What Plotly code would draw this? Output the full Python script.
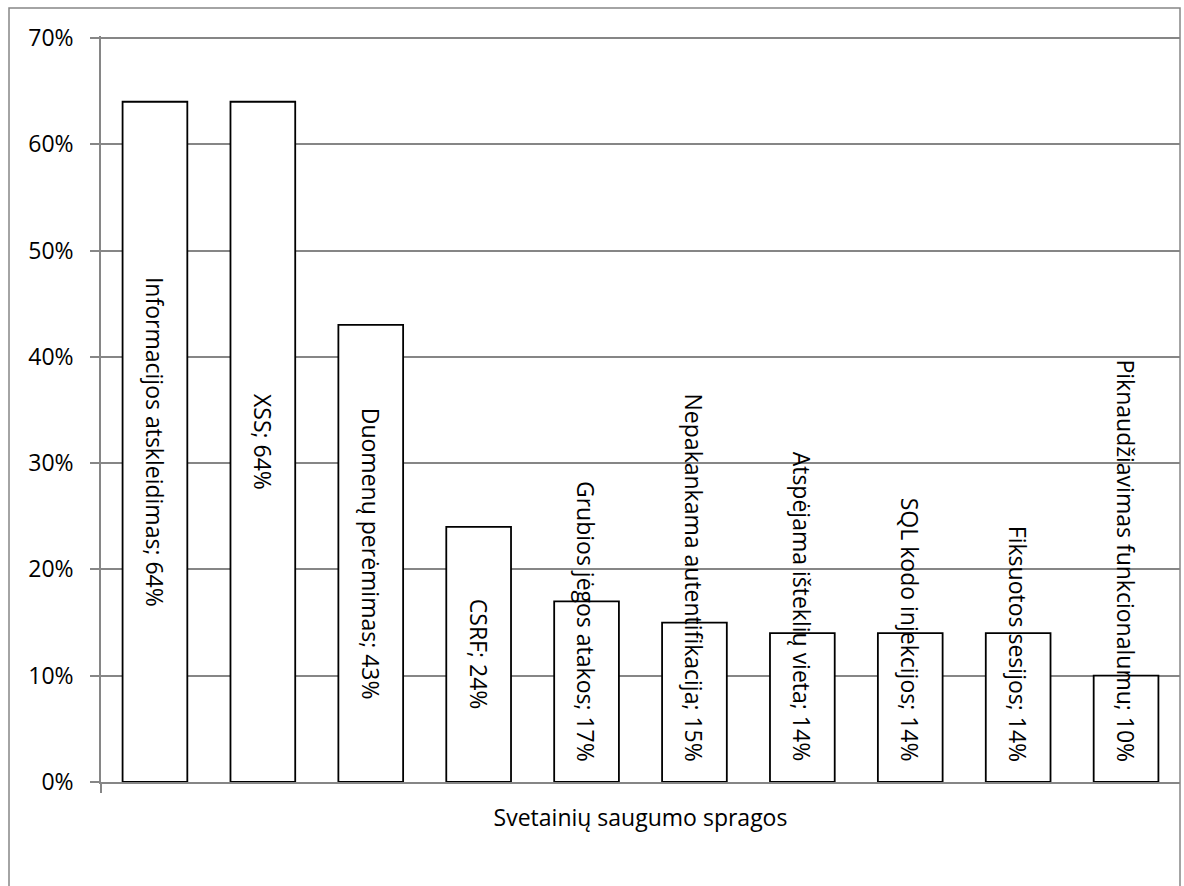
import plotly.graph_objects as go

categories = [
    "Informacijos atskleidimas",
    "XSS",
    "Duomenų perėmimas",
    "CSRF",
    "Grubios jėgos atakos",
    "Nepakankama autentifikacija",
    "Atspėjama išteklių vieta",
    "SQL kodo injekcijos",
    "Fiksuotos sesijos",
    "Piknaudžiavimas funkcionalumu",
]
values = [64, 64, 43, 24, 17, 15, 14, 14, 14, 10]
y_ticks = [0, 10, 20, 30, 40, 50, 60, 70]
y_tick_labels = ["0%", "10%", "20%", "30%", "40%", "50%", "60%", "70%"]
x_axis_label = "Svetainių saugumo spragos"

W, H = 1184, 886
L, R, T, B = 101, 4, 36, 104
TOP_PAD = 2  # px between top of plot area and highest gridline
FONT = "Open Sans"
FS = 23
plot_h = H - T - B
px_per_unit = (plot_h - TOP_PAD) / (y_ticks[-1] - y_ticks[0])
y_max = y_ticks[-1] + TOP_PAD / px_per_unit
bottom_pad = 18
char_w = 0.5 * FS

xs = list(range(len(categories)))
labels = [f"{c}; {v}%" for c, v in zip(categories, values)]

fig = go.Figure()
fig.add_trace(go.Bar(
    x=xs, y=values,
    marker=dict(color="white", line=dict(color="black", width=1.8)),
    hoverinfo="skip",
))

annotations = []
for x, v, lab in zip(xs, values, labels):
    est_len = len(lab) * char_w
    center_px = v * px_per_unit / 2
    if center_px - est_len / 2 < bottom_pad:
        annotations.append(dict(x=x, y=0, xref="x", yref="y", text=lab, showarrow=False,
                                textangle=90, yanchor="bottom", xanchor="center", yshift=bottom_pad,
                                font=dict(family=FONT, size=FS, color="black")))
    else:
        annotations.append(dict(x=x, y=v / 2, xref="x", yref="y", text=lab, showarrow=False,
                                textangle=90, yanchor="middle", xanchor="center",
                                font=dict(family=FONT, size=FS, color="black")))

fig.update_layout(
    width=W, height=H,
    margin=dict(l=L, r=R, t=T, b=B),
    paper_bgcolor="white", plot_bgcolor="white",
    bargap=0.4,
    showlegend=False,
    font=dict(family=FONT, size=FS, color="black"),
    annotations=annotations,
    xaxis=dict(
        range=[-0.5, len(categories) - 0.5],
        tickvals=[(len(categories) - 1) / 2],
        ticktext=[x_axis_label],
        ticks="",
        showgrid=False,
        showline=True, linecolor="#868686", linewidth=1.5,
        tickfont=dict(family=FONT, size=FS, color="black"),
        minor=dict(tickvals=[-0.5], ticks="outside", ticklen=9, tickcolor="#868686", tickwidth=1.5),
        ticklabelstandoff=15,
        fixedrange=True,
    ),
    yaxis=dict(
        range=[y_ticks[0], y_max],
        tickvals=y_ticks, ticktext=y_tick_labels,
        ticks="outside", ticklen=9, tickcolor="#868686", tickwidth=1.5,
        showgrid=True, gridcolor="#868686", gridwidth=1.5,
        showline=True, linecolor="#868686", linewidth=1.5,
        zeroline=False,
        tickfont=dict(family=FONT, size=FS, color="black"),
        ticklabelstandoff=12,
        fixedrange=True,
    ),
)

pw = W - L - R
fig.add_shape(type="rect", xref="paper", yref="paper",
              x0=(9 - L) / pw, x1=(W - R - L) / pw,
              y0=(H - B - (H + 20)) / plot_h, y1=(H - B - 8) / plot_h,
              line=dict(color="#868686", width=1.5), fillcolor="rgba(0,0,0,0)", layer="below")

fig.write_html("out.html", config={"displayModeBar": False})
